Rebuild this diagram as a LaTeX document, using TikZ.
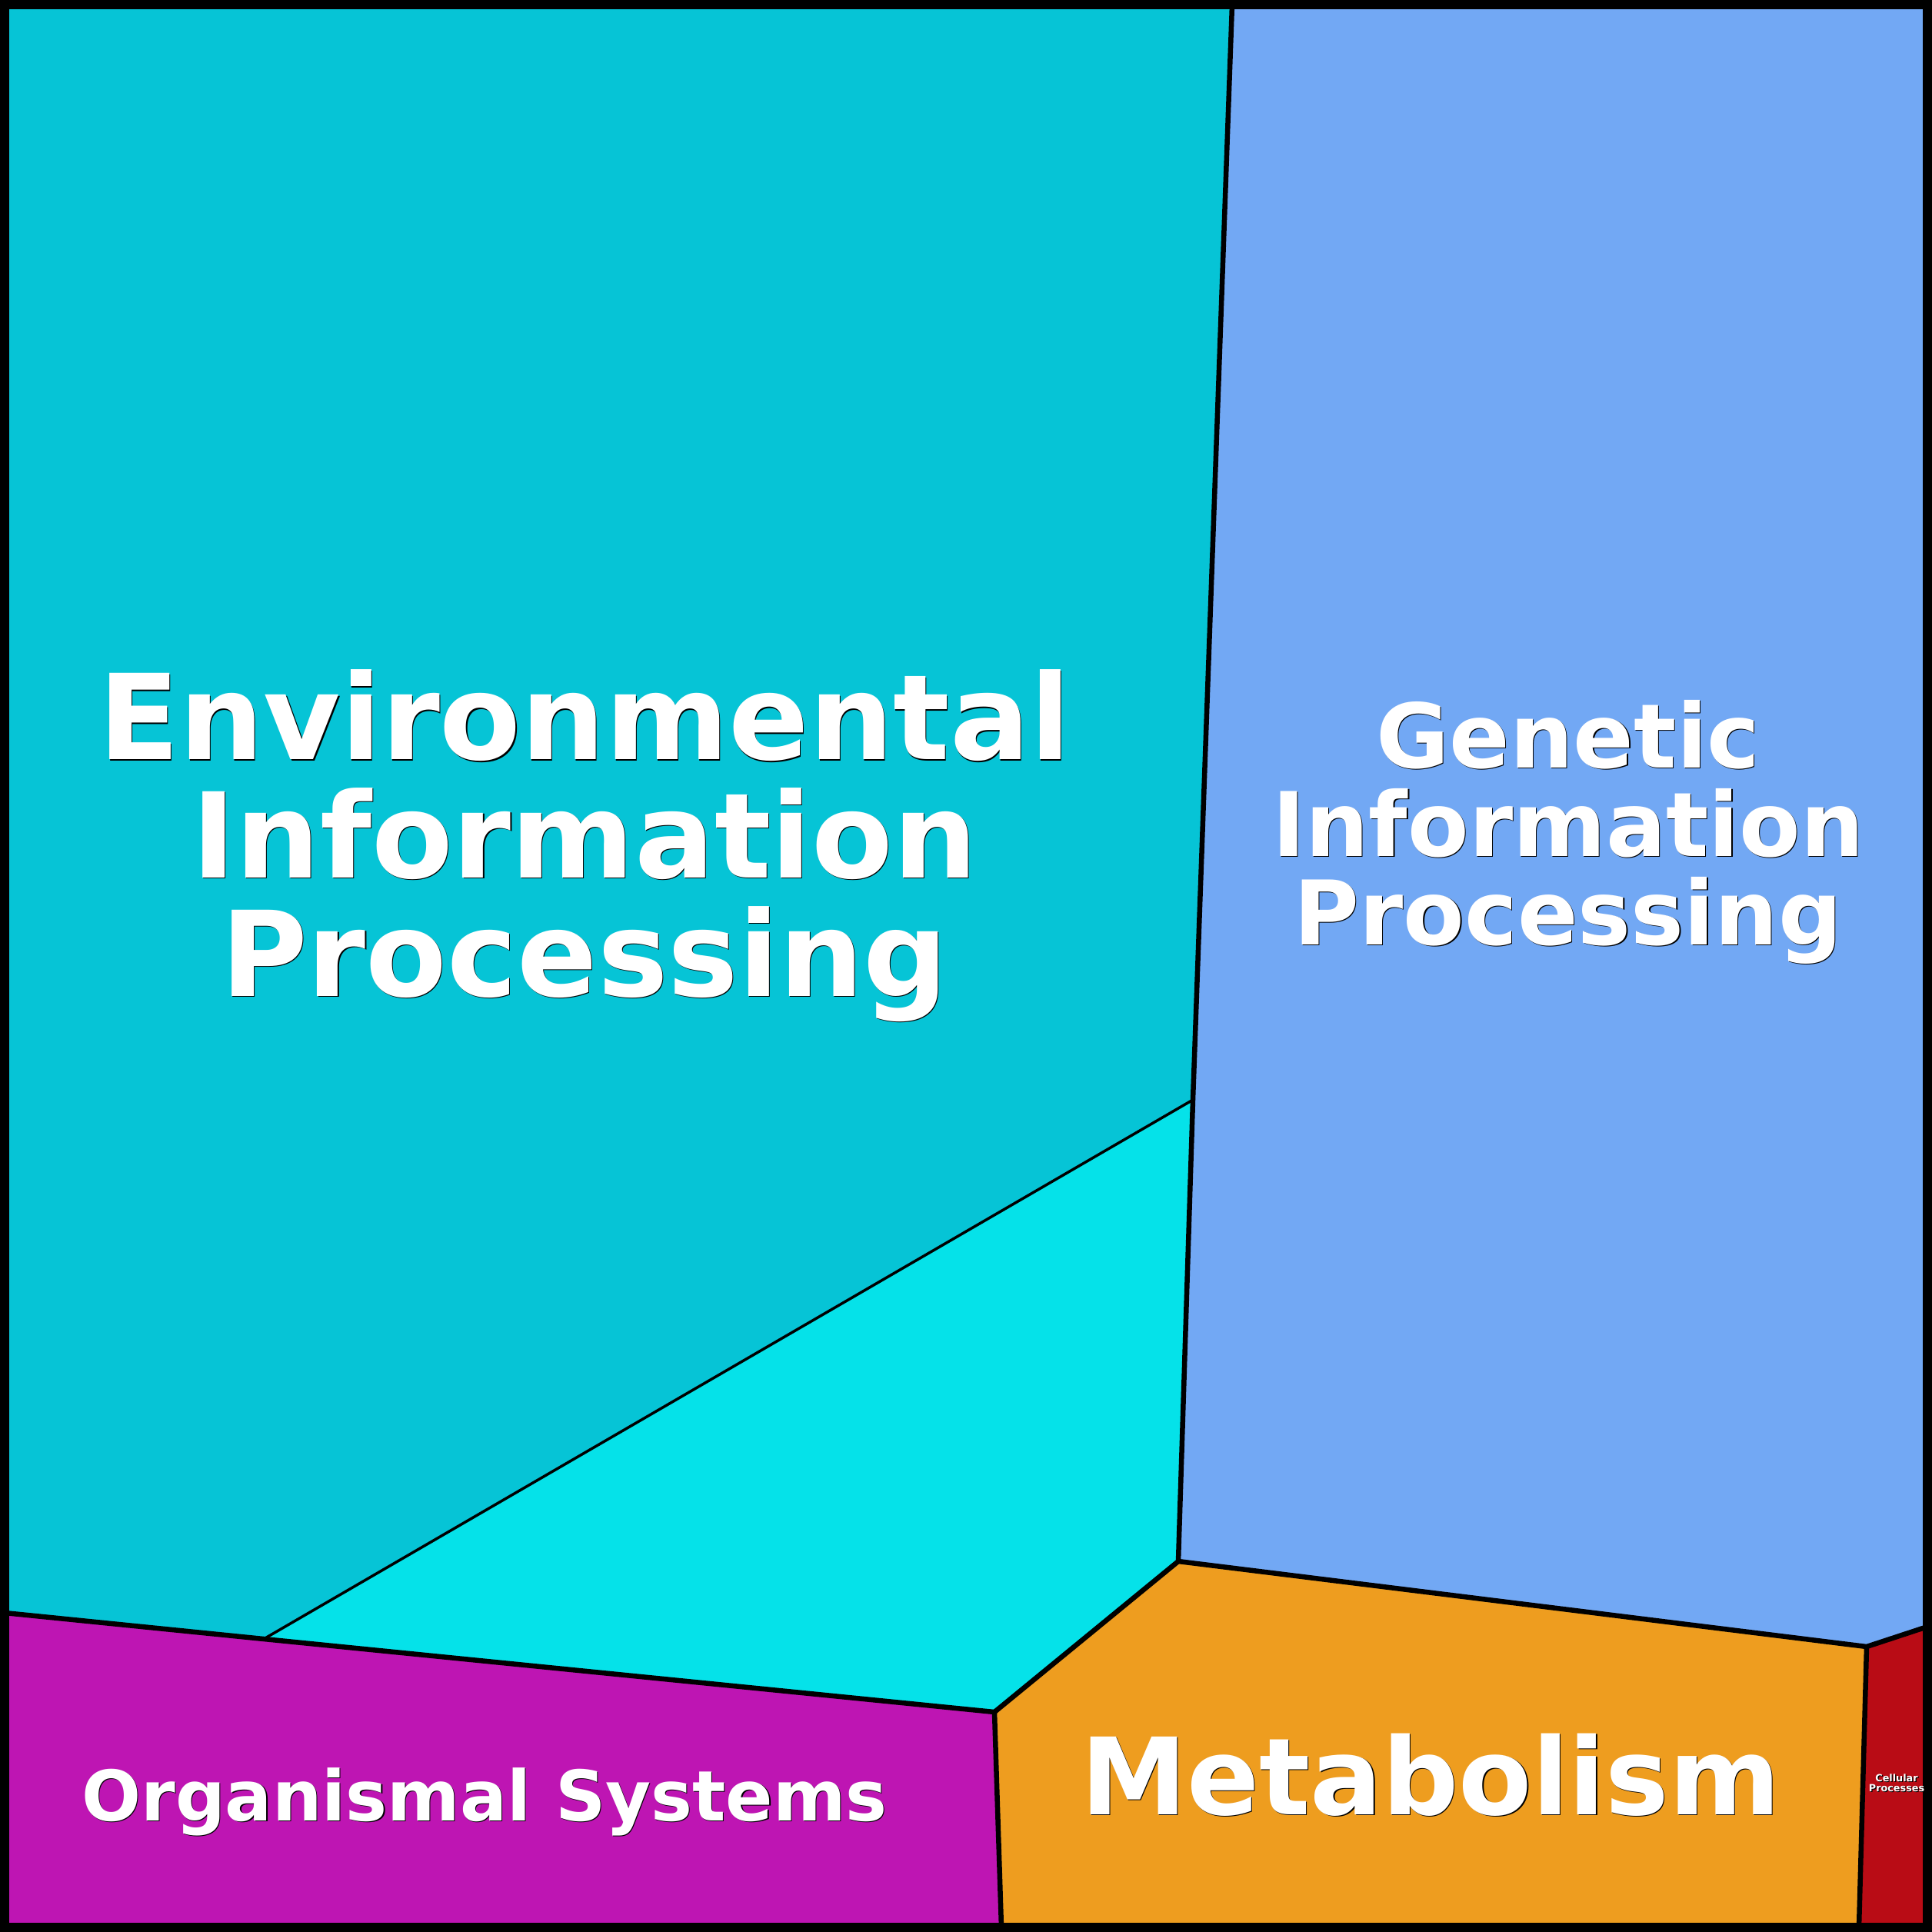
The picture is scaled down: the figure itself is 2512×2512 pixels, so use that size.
\documentclass[tikz,border=0pt]{standalone}
\usepackage{fontspec}
\setmainfont{DejaVu Sans}
\usetikzlibrary{positioning}

\definecolor{envcol}{HTML}{06C4D6}
\definecolor{envsubcol}{HTML}{05E2E9}
\definecolor{gencol}{HTML}{72A8F4}
\definecolor{orgcol}{HTML}{BE15B3}
\definecolor{metcol}{HTML}{EE9D1F}
\definecolor{cellcol}{HTML}{B90C15}

\tikzset{
  border/.style={line width=0.65mm, line join=round, line cap=round},
  subborder/.style={line width=0.35mm, line cap=round},
  lbl/.style={text=white, inner sep=0pt, align=center, anchor=base},
  lblshadow/.style={lbl, text=black, xshift=0.12mm, yshift=-0.12mm},
}

\newcommand{\catlabel}[4]{% name, position (last baseline), font, text
  \node[lblshadow, font=#3] (#1s) at #2 {#4};
  \node[lbl, font=#3] (#1) at #2 {#4};
}

\begin{document}
\begin{tikzpicture}[x=0.1mm, y=-0.1mm]
  \useasboundingbox (0,0) rectangle (2512,2512);

  % cell corners
  \coordinate (tl) at (6,6);
  \coordinate (tr) at (2506,6);
  \coordinate (br) at (2506,2506);
  \coordinate (bl) at (6,2506);
  \coordinate (gtop) at (1602,6);
  \coordinate (gmid) at (1551,1430);
  \coordinate (gbot) at (1532,2030);
  \coordinate (oleft) at (6,2097);
  \coordinate (osub) at (343,2131);
  \coordinate (omet) at (1293,2226);
  \coordinate (obot) at (1302,2506);
  \coordinate (mcell) at (2427,2141);
  \coordinate (cright) at (2506,2115);
  \coordinate (cbot) at (2417,2506);

  % fills
  \fill[envcol] (tl) -- (gtop) -- (gmid) -- (osub) -- (oleft) -- cycle;
  \fill[envsubcol] (gmid) -- (gbot) -- (omet) -- (osub) -- cycle;
  \fill[gencol] (gtop) -- (tr) -- (cright) -- (mcell) -- (gbot) -- (gmid) -- cycle;
  \fill[orgcol] (oleft) -- (omet) -- (obot) -- (bl) -- cycle;
  \fill[metcol] (omet) -- (gbot) -- (mcell) -- (cbot) -- (obot) -- cycle;
  \fill[cellcol] (mcell) -- (cright) -- (br) -- (cbot) -- cycle;

  % borders
  \draw[subborder] (gmid) -- (osub);
  \draw[border] (gtop) -- (gmid) -- (gbot) -- (omet);
  \draw[border] (oleft) -- (osub) -- (omet) -- (obot);
  \draw[border] (gbot) -- (mcell) -- (cright);
  \draw[border] (mcell) -- (cbot);
  \draw[line width=1.2mm, line join=miter] (tl) rectangle (br);

  % labels
  \catlabel{env}{(760,1295)}{\bfseries\fontsize{43.8}{43.7}\selectfont}{Environmental\\Information\\Processing}
  \catlabel{gen}{(2039,1228)}{\bfseries\fontsize{33}{32.7}\selectfont}{Genetic\\Information\\Processing}
  \catlabel{met}{(1860,2359)}{\bfseries\fontsize{39.5}{39.5}\selectfont}{Metabolism}
  \catlabel{org}{(630,2367)}{\bfseries\fontsize{25.8}{25.8}\selectfont}{Organismal Systems}
  \catlabel{cel}{(2466,2329)}{\bfseries\fontsize{3.64}{3.7}\selectfont}{Cellular\\Processes}
\end{tikzpicture}
\end{document}
